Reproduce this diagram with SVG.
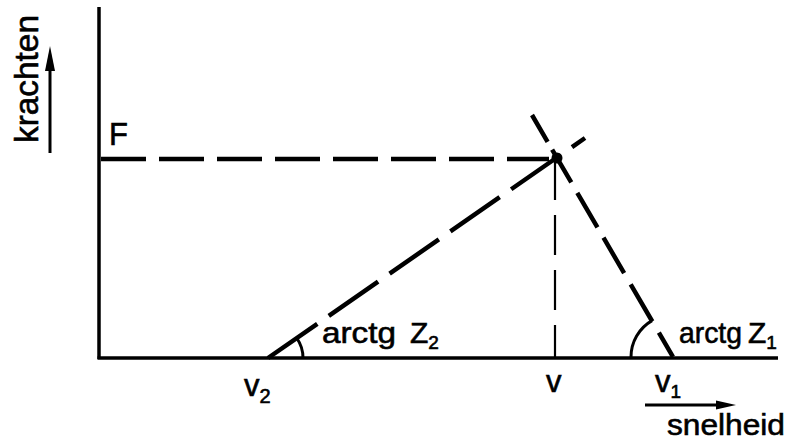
<svg xmlns="http://www.w3.org/2000/svg" width="796" height="445" viewBox="0 0 796 445">
<defs>
<style>
.ax{stroke:#000;stroke-width:3.5;fill:none}
.dl{stroke:#000;stroke-width:4.5;fill:none;stroke-dasharray:45 13;stroke-linecap:butt}
.thin{stroke:#000;stroke-width:2.2;fill:none;stroke-dasharray:40 15}
.arc{stroke:#000;stroke-width:3;fill:none}
.t{font-family:"Liberation Sans",Arial,sans-serif;font-size:30px;fill:#000;stroke:#000;stroke-width:0.6}
.sub{font-size:19px}
</style>
</defs>
<rect width="796" height="445" fill="#fff"/>
<g id="axes">
<line class="ax" x1="99" y1="7" x2="99" y2="359"/>
<line class="ax" x1="97.5" y1="358" x2="778" y2="358"/>
</g>
<g id="connectors">
<line class="dl" x1="101" y1="159" x2="549" y2="159"/>
<line class="dl" x1="268" y1="358" x2="585" y2="138" style="stroke-dasharray:60 14"/>
<line class="dl" x1="532" y1="115" x2="673" y2="357" style="stroke-dasharray:31 9 38 12 40 12 41 13 43 13 28 10"/>
<line class="thin" x1="555" y1="160" x2="555" y2="357"/>
<path class="arc" d="M303,358 A35,35 0 0 0 296.7,338"/>
<path class="arc" d="M631,357 A42,42 0 0 1 652,320.6"/>
<line stroke="#000" stroke-width="3" x1="50" y1="153" x2="50" y2="66"/>
<polygon points="50,46 45,71 55,71" fill="#000"/>
<line stroke="#000" stroke-width="3" x1="645" y1="405" x2="720" y2="405"/>
<polygon points="736,405 716,400.5 716,409.5" fill="#000"/>
</g>
<g id="intersection"><circle cx="557" cy="158" r="5.5" fill="#000"/></g>
<g id="label-krachten"><text class="t" style="font-size:33px" transform="translate(38,143) rotate(-90)" textLength="128" lengthAdjust="spacingAndGlyphs">krachten</text></g>
<g id="label-F"><text class="t" x="109" y="145" style="font-size:31px">F</text></g>
<g id="label-z2"><text class="t" x="322" y="343"><tspan textLength="74" lengthAdjust="spacingAndGlyphs">arctg</tspan> <tspan x="410">Z</tspan><tspan class="sub" dy="6">2</tspan></text></g>
<g id="label-z1"><text class="t" x="679" y="343"><tspan textLength="63" lengthAdjust="spacingAndGlyphs">arctg</tspan> <tspan x="748">Z</tspan><tspan class="sub" dy="6">1</tspan></text></g>
<g id="label-v2"><text class="t" x="244" y="396" style="font-size:31px">v<tspan class="sub" dy="7" style="font-size:20px">2</tspan></text></g>
<g id="label-v"><text class="t" x="546" y="392" style="font-size:31px">v</text></g>
<g id="label-v1"><text class="t" x="655" y="392" style="font-size:31px">v<tspan class="sub" dy="6">1</tspan></text></g>
<g id="label-snelheid"><text class="t" style="font-size:30px" x="667" y="435" textLength="118" lengthAdjust="spacingAndGlyphs">snelheid</text></g>
</svg>
